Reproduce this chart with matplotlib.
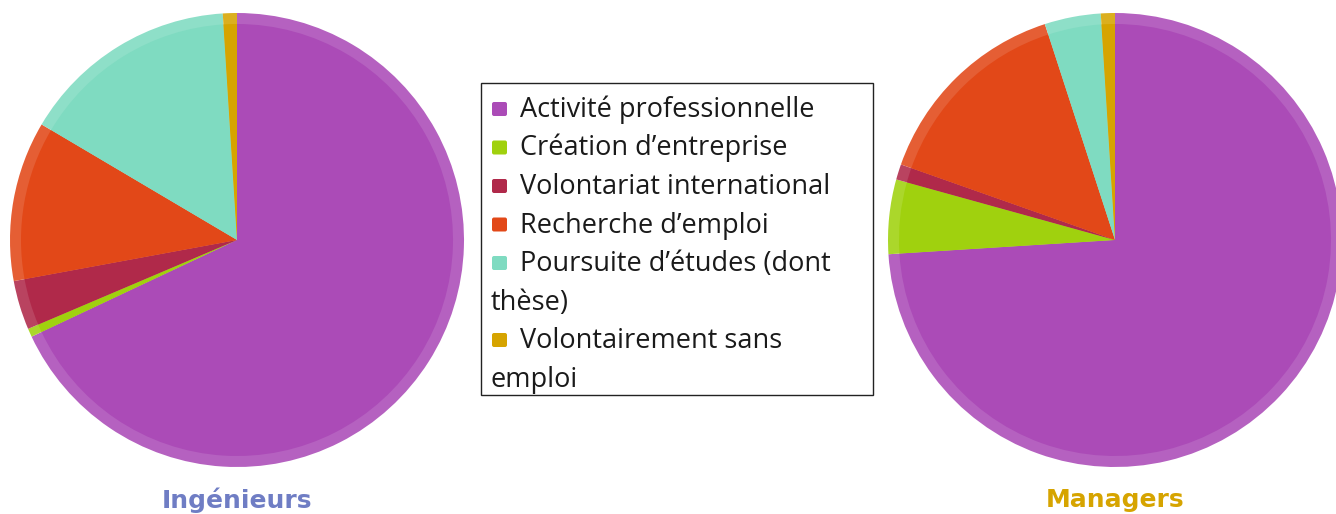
import numpy as np
import matplotlib.pyplot as plt
from matplotlib.patches import Rectangle, FancyBboxPatch
from matplotlib.colors import to_rgb

labels = ['Activité professionnelle',
          'Création d’entreprise',
          'Volontariat international',
          'Recherche d’emploi',
          'Poursuite d’études (dont\nthèse)',
          'Volontairement sans\nemploi']
colors = ['#ab4bb7', '#a0d10e', '#b0294a', '#e24818', '#7fdbc1', '#d6a400']

ingenieurs = [68.0, 0.6, 3.5, 11.4, 15.5, 1.0]
managers = [74.0, 5.3, 1.1, 14.6, 4.0, 1.0]

titles = ['Ingénieurs', 'Managers']
title_colors = ['#6f7dc4', '#d6a400']

W, H = 1336, 514
fig = plt.figure(figsize=(W / 100, H / 100), dpi=100)

def light(c, f=0.12):
    r, g, b = to_rgb(c)
    return (r + (1 - r) * f, g + (1 - g) * f, b + (1 - b) * f)

rim = 11 / 227.0

def draw_pie(cx, cy, r, values, title, tcolor):
    ax = fig.add_axes([(cx - r) / W, (H - cy - r) / H, 2 * r / W, 2 * r / H])
    ax.pie(values, colors=[light(c) for c in colors], startangle=90,
           counterclock=False, radius=1, wedgeprops=dict(linewidth=0))
    ax.pie(values, colors=colors, startangle=90,
           counterclock=False, radius=1 - rim, wedgeprops=dict(linewidth=0))
    ax.set_xlim(-1, 1)
    ax.set_ylim(-1, 1)
    ax.set_aspect('equal')
    ax.axis('off')
    fig.text(cx / W, 1 - 500 / H, title, color=tcolor, fontsize=18,
             fontweight='bold', ha='center', va='center', family='DejaVu Sans')

draw_pie(237, 240, 227, ingenieurs, titles[0], title_colors[0])
draw_pie(1115, 240, 227, managers, titles[1], title_colors[1])

# legend drawn in pixel coordinates
lax = fig.add_axes([0, 0, 1, 1], zorder=5)
lax.set_xlim(0, W)
lax.set_ylim(H, 0)
lax.axis('off')
lax.add_patch(Rectangle((481, 83), 392, 312, facecolor='white',
                        edgecolor='#222222', linewidth=1))

y = 117
step = 38.5
fs = 19.5
for lab, c in zip(labels, colors):
    parts = lab.split('\n')
    lax.add_patch(FancyBboxPatch((492, y - 15), 15, 14,
                                 boxstyle='round,pad=0,rounding_size=2',
                                 facecolor=c, edgecolor='none'))
    lax.text(520, y, parts[0], fontsize=fs, family='Open Sans',
             color='#1a1a1a', va='baseline', ha='left')
    y += step
    for p in parts[1:]:
        lax.text(491, y, p, fontsize=fs, family='Open Sans',
                 color='#1a1a1a', va='baseline', ha='left')
        y += step

fig.savefig('out.png', dpi=100)
